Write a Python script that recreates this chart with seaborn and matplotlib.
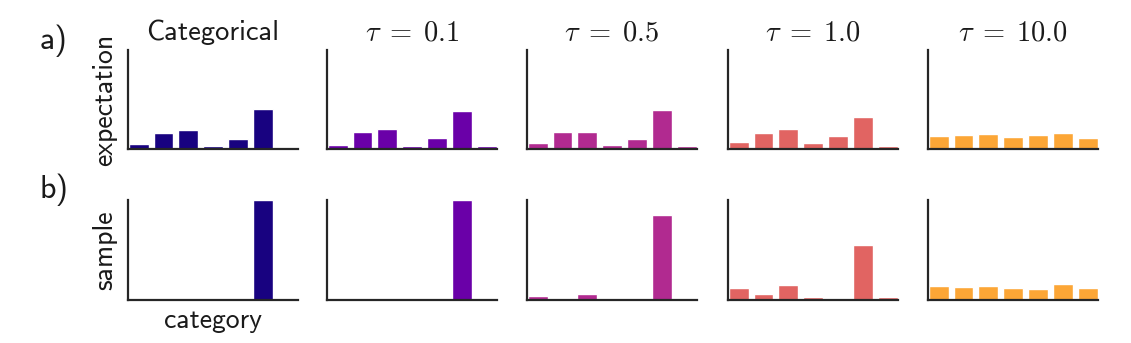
import numpy as np
import matplotlib
matplotlib.use("Agg")
import matplotlib.pyplot as plt
import seaborn as sns

# Seven categories, one column per distribution
categories = ["1", "2", "3", "4", "5", "6", "7"]
column_titles = ["Categorical", r"$\tau\;=\;0.1$", r"$\tau\;=\;0.5$",
                 r"$\tau\;=\;1.0$", r"$\tau\;=\;10.0$"]

# Row a): expected value of each category
expect_categorical = [0.047, 0.159, 0.189, 0.027, 0.098, 0.400, 0.004]
expect_tau_0_1 = [0.040, 0.170, 0.200, 0.032, 0.114, 0.385, 0.028]
expect_tau_0_5 = [0.060, 0.170, 0.170, 0.042, 0.104, 0.395, 0.028]
expect_tau_1_0 = [0.070, 0.160, 0.200, 0.060, 0.130, 0.320, 0.028]
expect_tau_10_0 = [0.130, 0.140, 0.150, 0.120, 0.140, 0.160, 0.110]

# Row b): a single drawn sample
sample_categorical = [0, 0, 0, 0, 0, 1.0, 0]
sample_tau_0_1 = [0, 0, 0, 0, 0, 1.0, 0]
sample_tau_0_5 = [0.044, 0, 0.064, 0, 0, 0.855, 0]
sample_tau_1_0 = [0.125, 0.064, 0.155, 0.032, 0, 0.550, 0.032]
sample_tau_10_0 = [0.145, 0.135, 0.145, 0.125, 0.115, 0.165, 0.125]

expectations = [expect_categorical, expect_tau_0_1, expect_tau_0_5, expect_tau_1_0, expect_tau_10_0]
samples = [sample_categorical, sample_tau_0_1, sample_tau_0_5, sample_tau_1_0, sample_tau_10_0]

sns.set_theme(style="white")
plt.rcParams["font.family"] = ["cmss10", "DejaVu Sans"]
plt.rcParams["mathtext.fontset"] = "cm"
plt.rcParams["axes.unicode_minus"] = False
plt.rcParams["axes.linewidth"] = 1.6
plt.rcParams["axes.edgecolor"] = "#262626"

colors = [plt.get_cmap("plasma")(v) for v in np.linspace(0.0, 0.8, 5)]
colors[0] = "#180280"

fig = plt.figure(figsize=(11.31, 3.43), dpi=100)
W, H = 1131, 343
col_left = [128, 327, 527, 728, 928]
col_width = 170
rows = [(50, 149), (200, 300)]  # (top, bottom) in pixels

axes = []
for r, (top, bottom) in enumerate(rows):
    row_axes = []
    for c, left in enumerate(col_left):
        ax = fig.add_axes([left / W, 1 - bottom / H, col_width / W, (bottom - top) / H])
        data = expectations[c] if r == 0 else samples[c]
        sns.barplot(x=categories, y=data, color=colors[c], saturation=1,
                    width=0.8, ax=ax)
        ax.set_xlim(-0.43, 6.41)
        ax.set_ylim(0, 1.0)
        ax.set_xticks([])
        ax.set_yticks([])
        ax.set_xlabel("")
        ax.set_ylabel("")
        sns.despine(ax=ax)
        row_axes.append(ax)
    axes.append(row_axes)

for c, title in enumerate(column_titles):
    axes[0][c].set_title(title, fontsize=20.5, pad=7, color="#1a1a1a")

axes[0][0].set_ylabel("expectation", fontsize=20, labelpad=8, color="#1a1a1a")
axes[1][0].set_ylabel("sample", fontsize=20, labelpad=8, color="#1a1a1a")
axes[1][0].set_xlabel("category", fontsize=20, labelpad=6, color="#1a1a1a")

fig.text(40 / W, 1 - 41 / H, "a)", fontsize=23, va="center", ha="left", color="#1a1a1a")
fig.text(40 / W, 1 - 190 / H, "b)", fontsize=23, va="center", ha="left", color="#1a1a1a")

fig.savefig("out.png", dpi=100)
